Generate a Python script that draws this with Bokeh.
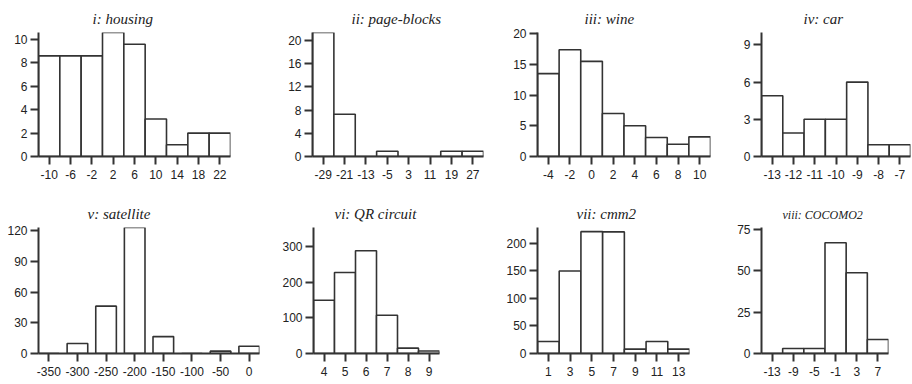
from bokeh.plotting import figure
from bokeh.models import Range1d, FixedTicker, Title
from bokeh.layouts import column, row
from bokeh.embed import file_html
from bokeh.resources import INLINE

# ---- data ----
housing_x = [-10, -6, -2, 2, 6, 10, 14, 18, 22]
housing_y = [8.6, 8.6, 8.6, 10.6, 9.6, 3.2, 1.0, 2.0, 2.0]

pageblocks_x = [-29, -21, -13, -5, 3, 11, 19, 27]
pageblocks_y = [21.4, 7.3, 0, 0.9, 0, 0, 0.9, 0.9]

wine_x = [-4, -2, 0, 2, 4, 6, 8, 10]
wine_y = [13.5, 17.4, 15.5, 7.0, 5.0, 3.1, 2.0, 3.2]

car_x = [-13, -12, -11, -10, -9, -8, -7]
car_y = [4.9, 1.9, 3.0, 3.0, 6.0, 0.95, 0.95]

satellite_x = [-350, -300, -250, -200, -150, -100, -50, 0]
satellite_y = [0, 9.7, 46.2, 123, 16.5, 0, 2.3, 7.1]

qr_x = [4, 5, 6, 7, 8, 9]
qr_y = [149, 227, 288, 107, 15, 7]

cmm2_x = [1, 3, 5, 7, 9, 11, 13]
cmm2_y = [21.7, 150, 221.5, 221, 8, 21.7, 8]

cocomo_x = [-13, -9, -5, -1, 3, 7]
cocomo_y = [0, 3, 3, 66.8, 48.7, 8.4]

titles = ["i: housing", "ii: page-blocks", "iii: wine", "iv: car",
          "v: satellite", "vi: QR circuit", "vii: cmm2", "viii: COCOMO2"]
yticks = [[0, 2, 4, 6, 8, 10], [0, 4, 8, 12, 16, 20], [0, 5, 10, 15, 20], [0, 3, 6, 9],
          [0, 30, 60, 90, 120], [0, 100, 200, 300], [0, 50, 100, 150, 200], [0, 25, 50, 75]]

# ---- layout (pixel geometry) ----
col_edges = [0, 262, 500, 725, 912]
# (frame_left, frame_right, frame_top, frame_bottom) in page pixels
frames = [(38, 230, 30, 156), (312, 483, 29, 156), (537, 710, 32, 156), (761, 910, 31, 156),
          (38, 259, 226, 353), (313, 439, 227, 353), (537, 689, 227, 358), (761, 888, 225, 355)]
title_left = [92, 351, 584, 803, 87, 334, 576, 782]
title_size = ["15px"] * 7 + ["12px"]
ymax = [10.6, 21.4, 20.2, 10.0, 123.0, 353.0, 229.0, 76.0]
bar_w = [4, 8, 2, 1, 36, 1, 2, 4]

data = [(housing_x, housing_y), (pageblocks_x, pageblocks_y), (wine_x, wine_y), (car_x, car_y),
        (satellite_x, satellite_y), (qr_x, qr_y), (cmm2_x, cmm2_y), (cocomo_x, cocomo_y)]

LINE = "#333333"
TEXT = "#222222"

figs = []
for i in range(8):
    r, c = divmod(i, 4)
    fl, fr, ft, fb = frames[i]
    x0, x1 = col_edges[c], col_edges[c + 1]
    y0 = 192 * r
    xs, ys = data[i]
    w = bar_w[i]
    p = figure(width=x1 - x0, height=192, output_backend="svg", toolbar_location=None,
               min_border_left=fl - x0, min_border_right=x1 - fr,
               min_border_top=ft - y0, min_border_bottom=y0 + 192 - fb,
               x_range=Range1d(xs[0] - w / 2, xs[-1] + w / 2),
               y_range=Range1d(0, ymax[i]),
               background_fill_color="white", border_fill_color="white")
    p.outline_line_color = None
    p.grid.visible = False
    p.vbar(x=xs, width=w, top=ys, bottom=0, fill_color="white",
           line_color=LINE, line_width=1.6)
    p.xaxis.ticker = FixedTicker(ticks=xs)
    p.yaxis.ticker = FixedTicker(ticks=yticks[i])
    p.xaxis.major_label_overrides = {v: str(v) for v in xs}
    p.yaxis.major_label_overrides = {v: str(v) for v in yticks[i]}
    for ax in (p.xaxis[0], p.yaxis[0]):
        ax.axis_line_color = LINE
        ax.axis_line_width = 2
        ax.major_tick_line_color = LINE
        ax.major_tick_line_width = 2
        ax.major_tick_in = 0
        ax.major_tick_out = 8
        ax.minor_tick_line_color = None
        ax.major_label_text_font = "Liberation Sans"
        ax.major_label_text_font_size = "12px"
        ax.major_label_text_color = TEXT
    p.xaxis.major_label_standoff = 5
    p.yaxis.major_label_standoff = 3
    t = Title(text=titles[i], align="left", offset=title_left[i] - fl,
              text_font="Liberation Serif", text_font_style="italic",
              text_font_size=title_size[i], text_color=TEXT, standoff=12)
    p.add_layout(t, "above")
    figs.append(p)

layout = column(row(*figs[:4]), row(*figs[4:]))
open("out.html", "w").write(file_html(layout, INLINE))
